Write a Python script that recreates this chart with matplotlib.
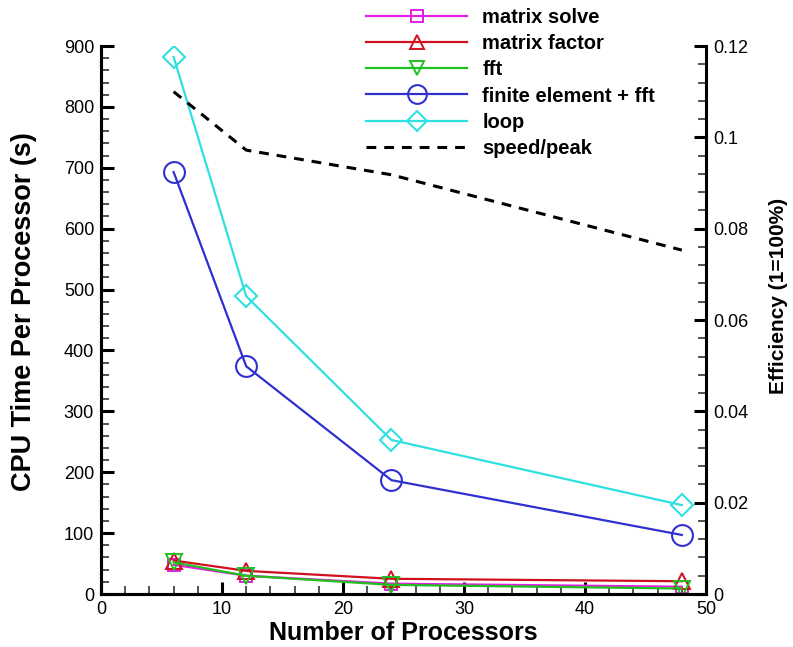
import matplotlib
matplotlib.use("Agg")
import matplotlib.pyplot as plt
from matplotlib.ticker import MultipleLocator

plt.rcParams['font.family'] = ['Liberation Sans', 'DejaVu Sans']

processors = [6, 12, 24, 48]
matrix_solve = [48, 30, 17, 12]
matrix_factor = [55, 38, 25, 21]
fft = [52, 30, 15, 9]
fe_fft = [693, 374, 187, 97]
loop = [882, 489, 253, 146]
speed_peak = [0.110, 0.0972, 0.0918, 0.0753]

fig = plt.figure(figsize=(7.93, 6.47), dpi=100)
ax = fig.add_axes([0.1274, 0.0819, 0.7629, 0.847])
ax2 = ax.twinx()

lw = 1.6
h1, = ax.plot(processors, matrix_solve, color='#e020e0', marker='s', ms=9,
              mfc='none', mew=1.4, lw=lw, label='matrix solve')
h2, = ax.plot(processors, matrix_factor, color='#d01020', marker='^', ms=11,
              mfc='none', mew=1.4, lw=lw, label='matrix factor')
h3, = ax.plot(processors, fft, color='#20c020', marker='v', ms=11,
              mfc='none', mew=1.4, lw=lw, label='fft')
h4, = ax.plot(processors, fe_fft, color='#3030d0', marker='o', ms=15,
              mfc='none', mew=1.5, lw=lw, label='finite element + fft')
h5, = ax.plot(processors, loop, color='#30e0e0', marker='D', ms=11,
              mfc='none', mew=1.5, lw=lw, label='loop')
h6, = ax2.plot(processors, speed_peak, color='black', lw=2.2,
               dashes=(3.2, 2.6), label='speed/peak')

ax.set_xlim(0, 50)
ax.set_ylim(0, 900)
ax2.set_ylim(0, 0.12)

ax.xaxis.set_major_locator(MultipleLocator(10))
ax.xaxis.set_minor_locator(MultipleLocator(2))
ax.yaxis.set_major_locator(MultipleLocator(100))
ax.yaxis.set_minor_locator(MultipleLocator(20))
ax2.set_yticks([0, 0.02, 0.04, 0.06, 0.08, 0.1, 0.12])
ax2.set_yticklabels(['0', '0.02', '0.04', '0.06', '0.08', '0.1', '0.12'])
ax2.yaxis.set_minor_locator(MultipleLocator(0.004))

for a in (ax, ax2):
    a.spines['top'].set_visible(False)
    for s in a.spines.values():
        s.set_linewidth(2.2)
    a.tick_params(which='major', direction='in', length=9, width=2.2,
                  labelsize=13, colors='black')
    a.tick_params(which='minor', direction='in', length=5.5, width=1.3,
                  color='#444444')
ax.tick_params(axis='both', which='major', pad=5)
ax2.tick_params(axis='y', which='major', pad=5)
ax.spines['right'].set_visible(False)

ax.set_xlabel('Number of Processors', fontsize=18, fontweight='bold', labelpad=2)
ax.set_ylabel('CPU Time Per Processor (s)', fontsize=19.5, fontweight='bold')
ax2.set_ylabel('Efficiency (1=100%)', fontsize=15, fontweight='bold')
ax.yaxis.set_label_coords(-0.106, 0.515)
ax2.yaxis.set_label_coords(1.104, 0.544)

fig.legend(handles=[h1, h2, h3, h4, h5, h6], loc='upper left',
           bbox_to_anchor=(0.462, 0.988), frameon=False,
           prop={'weight': 'bold', 'size': 14.5}, handlelength=5.0,
           labelspacing=0.36, handletextpad=0.75, borderaxespad=0,
           borderpad=0, markerscale=0.9)

fig.savefig('out.png', dpi=100, facecolor='white')
